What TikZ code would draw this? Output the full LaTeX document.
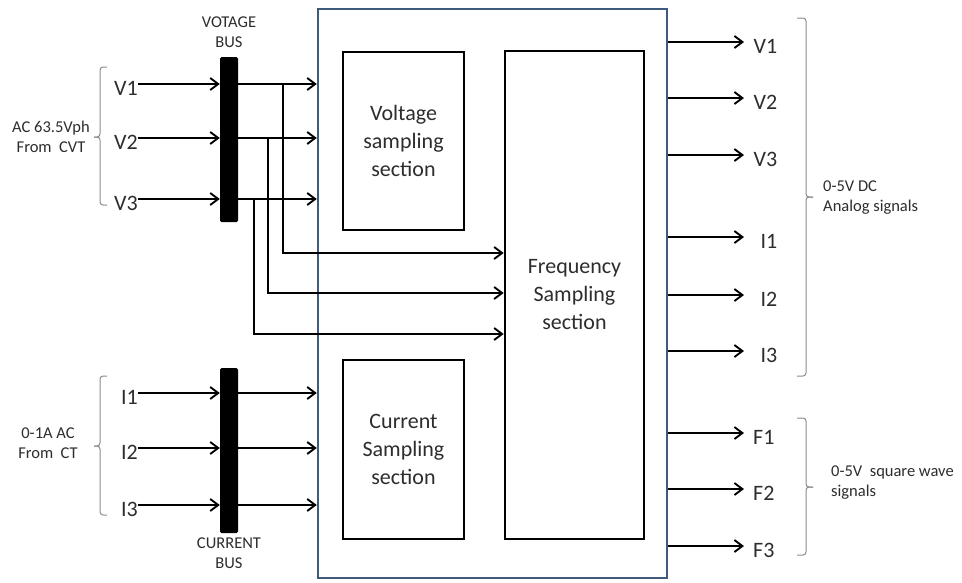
\documentclass[tikz,border=0pt]{standalone}
\usepackage{fontspec}
\setmainfont{Carlito}
\usetikzlibrary{arrows.meta,calc}
\definecolor{boxblue}{RGB}{63,90,125}
\definecolor{txt}{RGB}{45,45,45}
\definecolor{brk}{RGB}{140,140,140}
\begin{document}
\begin{tikzpicture}[x=1pt,y=-1pt,
 big/.style={font=\fontsize{22}{28}\selectfont, text=txt, align=center},
 small/.style={font=\fontsize{16.5}{20}\selectfont, text=txt, align=center, inner sep=0pt},
 lab/.style={font=\fontsize{22}{28}\selectfont, text=txt, text height=22pt, text depth=0pt, inner xsep=0pt, inner ysep=0pt},
 blk/.style={draw=black, line width=2.6pt, inner sep=0pt},
 bus/.style={fill=black, draw=none, rounded corners=1.5pt, minimum width=18pt, minimum height=165pt, inner sep=0pt},
 arr/.style={draw=black, line width=1.9pt, -{Straight Barb[length=8pt,width=12pt]}},
 brace/.style={draw=brk, line width=1pt, rounded corners=3pt}]
\useasboundingbox (0,0) rectangle (962,582);
\fill[white] (0,0) rectangle (962,582);

% main boxes
\node[draw=boxblue, line width=2.4pt, minimum width=349pt, minimum height=569pt, inner sep=0pt] (outer) at (492.5,293.5) {};
\node[blk, minimum width=121pt, minimum height=178pt, big] (vs) at (403.5,141) {Voltage\\sampling\\section};
\node[blk, minimum width=121pt, minimum height=179pt, big] (cs) at (403.5,449.5) {Current\\Sampling\\section};
\node[blk, minimum width=139pt, minimum height=488pt, big] (fs) at (574.5,295) {Frequency\\Sampling\\section};

% buses
\node[bus] (vbus) at (229,139.5) {};
\node[bus] (ibus) at (229,450.5) {};
\node[small] (vbl) at (229,32) {VOTAGE\\BUS};
\node[small] (ibl) at (229,553) {CURRENT\\BUS};

% left labels
\node[lab, anchor=east] (lv1) at (138,84) {V1};
\node[lab, anchor=east] (lv2) at (138,138) {V2};
\node[lab, anchor=east] (lv3) at (138,199) {V3};
\node[lab, anchor=east] (li1) at (138,393) {I1};
\node[lab, anchor=east] (li2) at (138,448) {I2};
\node[lab, anchor=east] (li3) at (138,505) {I3};

\foreach \n in {v1,v2,v3} {
  \draw[arr] (l\n.east) -- (l\n.east -| vbus.west);
  \draw[arr] (vbus.east |- l\n.east) -- (outer.west |- l\n.east);
}
\foreach \n in {i1,i2,i3} {
  \draw[arr] (l\n.east) -- (l\n.east -| ibus.west);
  \draw[arr] (ibus.east |- l\n.east) -- (outer.west |- l\n.east);
}

% taps to frequency section
\draw[arr] ($(lv1.east -| vbus.east)+(45,0)$) |- ($(fs.west)+(0,-42)$);
\draw[arr] ($(lv2.east -| vbus.east)+(30,0)$) |- ($(fs.west)+(0,-2)$);
\draw[arr] ($(lv3.east -| vbus.east)+(16,0)$) |- ($(fs.west)+(0,39)$);

% left braces and texts
\draw[brace] (107,67) -| (100,137) -- (94,137);
\draw[brace] (94,137) -- (100,137) |- (107,205);
\draw[brace] (107,376) -| (100,446) -- (94,446);
\draw[brace] (94,446) -- (100,446) |- (107,515);
\node[small] (acv) at (51,137) {AC 63.5Vph\\From\ \ CVT};
\node[small] (aci) at (48,443) {0-1A AC\\From\ \ CT};

% right outputs
\node[lab, anchor=west, text width=24pt, align=right] (ov1) at (753,42) {V1};
\node[lab, anchor=west, text width=24pt, align=right] (ov2) at (753,98) {V2};
\node[lab, anchor=west, text width=24pt, align=right] (ov3) at (753,155) {V3};
\node[lab, anchor=west, text width=24pt, align=right] (oi1) at (753,237) {I1};
\node[lab, anchor=west, text width=24pt, align=right] (oi2) at (753,295) {I2};
\node[lab, anchor=west, text width=24pt, align=right] (oi3) at (753,351) {I3};
\node[lab, anchor=west, text width=24pt, align=left] (of1) at (753,433) {F1};
\node[lab, anchor=west, text width=24pt, align=left] (of2) at (753,489) {F2};
\node[lab, anchor=west, text width=24pt, align=left] (of3) at (753,546) {F3};
\foreach \n in {v1,v2,v3,i1,i2,i3,f1,f2,f3}
  \draw[arr, shorten >=9pt] (outer.east |- o\n.west) -- (o\n.west);

% right braces and texts
\draw[brace] (797,18) -| (806,197) -- (813,197);
\draw[brace] (813,197) -- (806,197) |- (797,376);
\draw[brace] (797,418) -| (806,487) -- (813,487);
\draw[brace] (813,487) -- (806,487) |- (797,555);
\node[small, anchor=west, align=left] (an) at (823,198) {0-5V DC\\Analog signals};
\node[small, anchor=west, align=left] (sq) at (831,483) {0-5V\ \ square wave\\signals};
\end{tikzpicture}
\end{document}
